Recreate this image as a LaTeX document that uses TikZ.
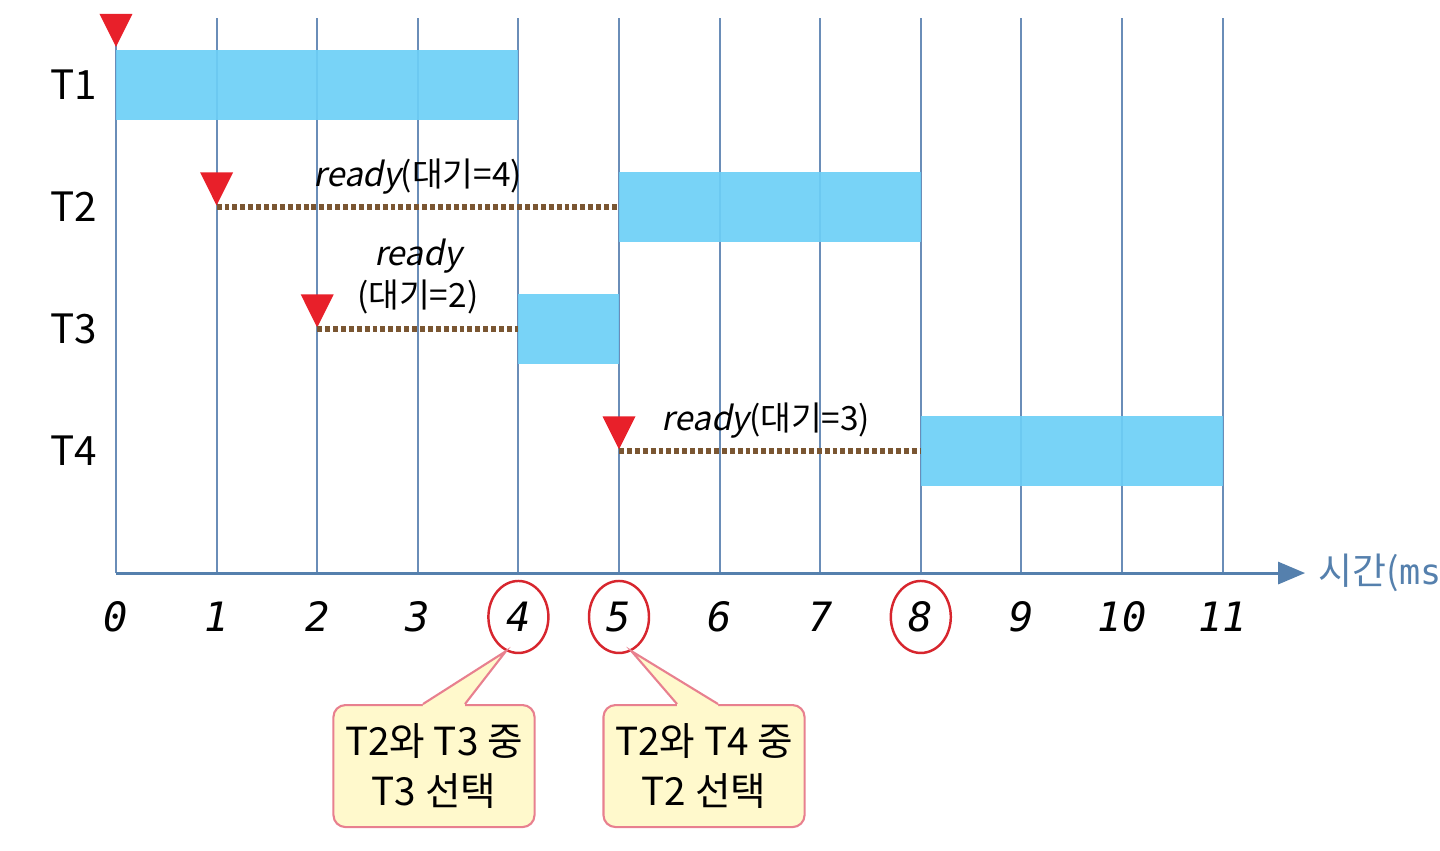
\documentclass[tikz,border=0pt]{standalone}
\usepackage{fontspec}
\usepackage{tikz}
\usepackage{xcolor}
\usetikzlibrary{
    arrows.meta,
    calc,
    shapes,
    shapes.geometric
}
\setmainfont{Noto Sans CJK KR}
\newfontfamily\slfont[FakeSlant=0.2]{Noto Sans CJK KR}
\newfontfamily\tickfont{DejaVu Sans Mono}

\definecolor{barblue}{HTML}{6DCFF6}
\definecolor{gridblue}{HTML}{6A8DB8}
\definecolor{axisblue}{HTML}{5580AD}
\definecolor{arrivered}{HTML}{E8202A}
\definecolor{waitbrown}{HTML}{7A5632}
\definecolor{circred}{HTML}{D7262E}
\definecolor{callfill}{HTML}{FFF9CC}
\definecolor{callpink}{HTML}{E8808F}

\begin{document}
\begin{tikzpicture}[x=1.006cm, y=1.22cm,
    gridline/.style={draw=gridblue, line width=0.55pt},
    taskbar/.style={fill=barblue, fill opacity=0.92},
    waitline/.style={draw=waitbrown, line width=1.8pt, dash pattern=on 1.4pt off 0.85pt},
    arrive/.style={isosceles triangle, isosceles triangle apex angle=53, shape border rotate=-90,
        fill=arrivered, minimum width=0.33cm, minimum height=0.33cm, inner sep=0pt, anchor=apex},
    rowlabel/.style={font=\fontsize{11.5}{13}\selectfont},
    waitlabel/.style={font=\fontsize{9.5}{12}\selectfont, align=center},
    tick/.style={font=\tickfont\itshape\fontsize{11.5}{13}\selectfont},
    pickring/.style={ellipse, draw=circred, line width=0.7pt, minimum width=0.6cm, minimum height=0.72cm},
    callbox/.style={draw=callpink, fill=callfill, line width=0.6pt, rounded corners=0.12cm,
        minimum width=1.98cm, minimum height=1.22cm, align=center, font=\fontsize{11}{14}\selectfont}
    ]
            \useasboundingbox (-1.153,-2.270) rectangle (13.161,4.697);

            % time grid and ticks
            \foreach \t in {0,...,11} {
                \draw[gridline] (\t,0) -- (\t,4.55);
                \node[tick] (t\t) at (\t,-0.36) {\t};
            }

            % running slots
            \fill[taskbar] (0,3.715) rectangle (4,4.285);
            \fill[taskbar] (5,2.715) rectangle (8,3.285);
            \fill[taskbar] (4,1.715) rectangle (5,2.285);
            \fill[taskbar] (8,0.715) rectangle (11,1.285);

            \node[rowlabel] (T1) at (-0.42,4) {T1};
            \node[rowlabel] (T2) at (-0.42,3) {T2};
            \node[rowlabel] (T3) at (-0.42,2) {T3};
            \node[rowlabel] (T4) at (-0.42,1) {T4};

            % arrivals
            \node[arrive] (a1) at (0,4.30) {};
            \node[arrive] (a2) at (1,3.0) {};
            \node[arrive] (a3) at (2,2.0) {};
            \node[arrive] (a4) at (5,1.0) {};

            \coordinate (s2) at (5,3);
            \coordinate (s3) at (4,2);
            \coordinate (s4) at (8,1);
            \draw[waitline] (a2.apex) -- (s2);
            \draw[waitline] (a3.apex) -- (s3);
            \draw[waitline] (a4.apex) -- (s4);

            \node[waitlabel] (w2) at (3,3.25) {{\slfont ready}(대기=4)};
            \node[waitlabel] (w3) at (3,2.43) {{\slfont ready}\\(대기=2)};
            \node[waitlabel] (w4) at (6.46,1.25) {{\slfont ready}(대기=3)};

            % time axis
            \coordinate (o) at (0,0);
            \node[anchor=west, text=axisblue, inner sep=0.13cm, font=\fontsize{10.5}{13}\selectfont] (tlabel) at (11.82,0) {시간({\tickfont\fontsize{10}{13}\selectfont ms})};
            \draw[draw=axisblue, line width=0.85pt, -{Triangle[length=0.27cm, width=0.22cm]}] (o) -- (tlabel.west);

            % decision points
            \node[pickring] (c4) at (t4) {};
            \node[pickring] (c5) at (t5) {};
            \node[pickring] (c8) at (t8) {};

            \node[callbox] (n4) at (3.161,-1.582) {T2와 T3 중\\T3 선택};
            \node[callbox] (n5) at (5.845,-1.582) {T2와 T4 중\\T2 선택};

            \fill[callfill] ([xshift=-0.11cm]n4.north) -- (c4.-110) -- ([xshift=0.31cm]n4.north)
                -- ([xshift=0.31cm,yshift=-1pt]n4.north) -- ([xshift=-0.11cm,yshift=-1pt]n4.north) -- cycle;
            \draw[callpink, line width=0.6pt] ([xshift=-0.11cm]n4.north) -- (c4.-110) -- ([xshift=0.31cm]n4.north);

            \fill[callfill] ([xshift=-0.27cm]n5.north) -- (c5.-70) -- ([xshift=0.14cm]n5.north)
                -- ([xshift=0.14cm,yshift=-1pt]n5.north) -- ([xshift=-0.27cm,yshift=-1pt]n5.north) -- cycle;
            \draw[callpink, line width=0.6pt] ([xshift=-0.27cm]n5.north) -- (c5.-70) -- ([xshift=0.14cm]n5.north);
\end{tikzpicture}
\end{document}
